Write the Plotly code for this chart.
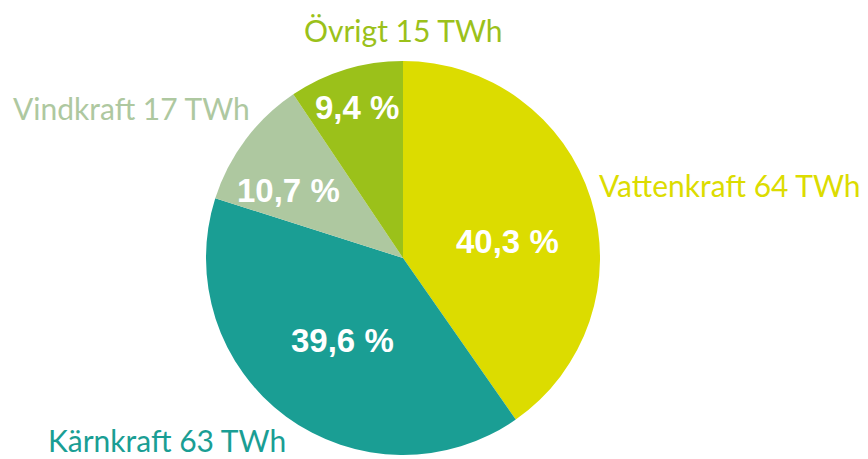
import plotly.graph_objects as go

labels = ["Vattenkraft", "Kärnkraft", "Vindkraft", "Övrigt"]
twh = [64, 63, 17, 15]
pct = [40.3, 39.6, 10.7, 9.4]
colors = ["#DCDC00", "#1A9E94", "#AEC8A0", "#9BC11A"]

W, H = 868, 459
OX, OY = 8, 8  # page body offset


def px(x, y):
    return ((x - OX) / W, 1 - (y - OY) / H)


x0, y_top = px(206, 61)
x1, y_bot = px(600, 455)

fig = go.Figure(go.Pie(
    labels=labels,
    values=pct,
    sort=False,
    direction="clockwise",
    rotation=0,
    marker=dict(colors=colors, line=dict(width=0)),
    textinfo="none",
    domain=dict(x=[x0, x1], y=[y_bot, y_top]),
    showlegend=False,
    hoverinfo="label+value",
))

# outer labels (layout positions in pixels)
outer_pos = [
    (598, 185, "left"),
    (47, 440, "left"),
    (12, 108, "left"),
    (403, 30, "center"),
]
for name, v, c, (x, y, xa) in zip(labels, twh, colors, outer_pos):
    ax, ay = px(x, y)
    fig.add_annotation(
        x=ax, y=ay, xref="paper", yref="paper", xanchor=xa, yanchor="middle",
        text=f"{name} {v} TWh", showarrow=False, borderpad=0,
        font=dict(family="Lato", size=30, color=c),
    )

# inside percentage labels (layout positions in pixels)
inner_pos = [(507, 240), (342, 339), (288, 189), (357, 106)]
for p, (x, y) in zip(pct, inner_pos):
    ax, ay = px(x, y + 1)
    fig.add_annotation(
        x=ax, y=ay, xref="paper", yref="paper", xanchor="center", yanchor="middle",
        text=f"{p:.1f} %".replace(".", ","), showarrow=False, borderpad=0,
        font=dict(family="Liberation Sans", size=33, color="white", weight="bold"),
    )

fig.update_layout(
    width=W, height=H,
    margin=dict(l=0, r=0, t=0, b=0),
    paper_bgcolor="white", plot_bgcolor="white",
    separators=", ",
)
fig.write_html("out.html")
